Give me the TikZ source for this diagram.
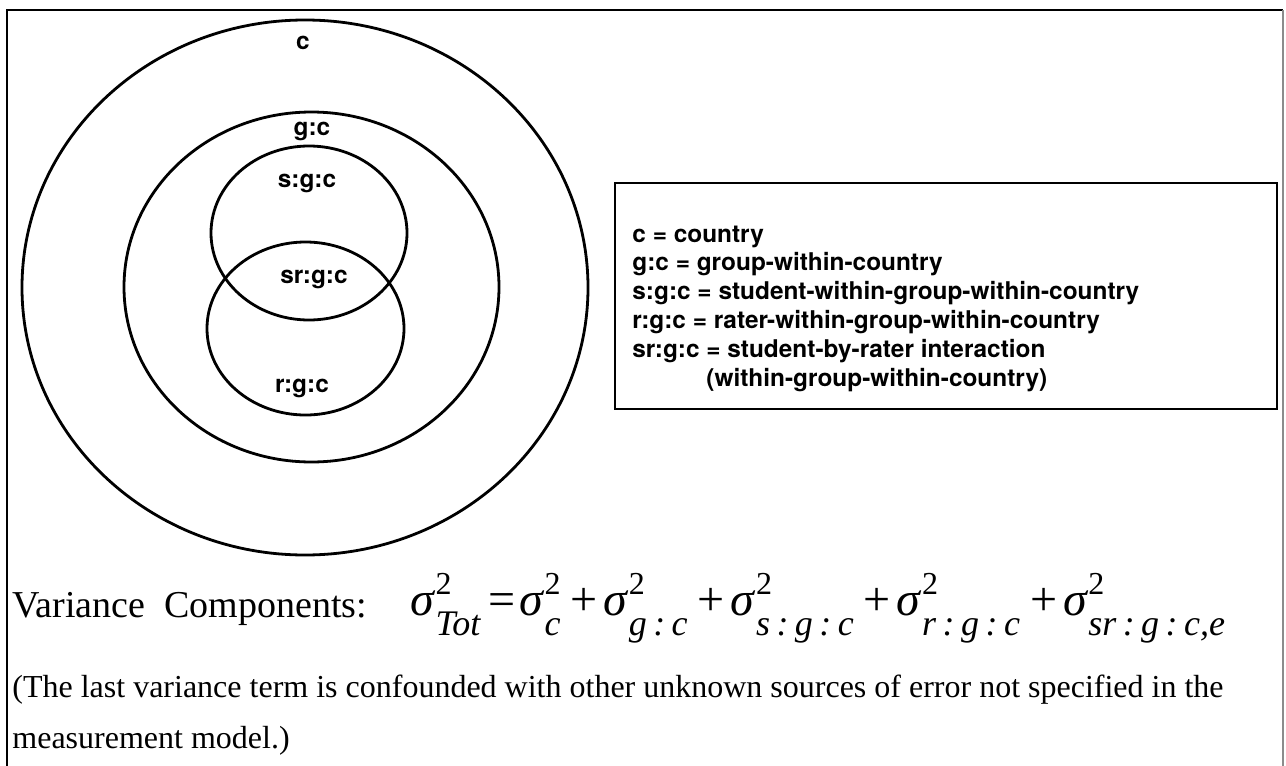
\documentclass[tikz,border=0pt]{standalone}
\usepackage{fontspec}
\setmainfont{Liberation Serif}
\newfontfamily\helv{TeX Gyre Heros}
\usetikzlibrary{positioning}
\newcommand{\vterm}[1]{\textit{σ}\rlap{\raisebox{10.5pt}{\fontsize{16}{16}\selectfont 2}}\raisebox{-10pt}{\fontsize{18}{18}\selectfont\itshape #1}}
\newcommand{\gsep}{\hspace{0.18em}:\hspace{0.18em}}
\newcommand{\plus}{\hspace{5pt}+\hspace{3pt}}

\begin{document}
\begin{tikzpicture}[x=0.5pt,y=-0.5pt,
    ring/.style={line width=1.4pt},
    lbl/.style={font=\helv\bfseries\fontsize{12.2}{14}\selectfont,anchor=base,inner sep=0pt},
    key/.style={font=\helv\bfseries\fontsize{12.2}{14}\selectfont,anchor=base west,inner sep=0pt},
    body/.style={anchor=base west,inner sep=0pt}]
  \useasboundingbox (0,0) rectangle (1286,766);
  % frame
  \draw[line width=1.2pt] (7,766) -- (7,10) -- (1283,10);
  \draw[line width=0.6pt,black!45] (1283,10) -- (1283,766);
  % nested ellipses
  \draw[ring] (305,287.5) ellipse [x radius=283,y radius=267.5];
  \draw[ring] (311.5,287) ellipse [x radius=187.5,y radius=175];
  \draw[ring] (309,233) ellipse [x radius=98,y radius=87];
  \draw[ring] (305.5,328.5) ellipse [x radius=98.5,y radius=86.5];
  % labels
  \node[lbl] (lc) at (303,49) {c};
  \node[lbl] (lgc) at (312,135) {g:c};
  \node[lbl] (lsgc) at (307,187) {s:g:c};
  \node[lbl] (lsrgc) at (314,283) {sr:g:c};
  \node[lbl] (lrgc) at (302,392) {r:g:c};
  % legend
  \draw[line width=1.2pt] (615,183) rectangle (1277,409);
  \foreach \txt [count=\i] in {c = country, g:c = group-within-country,
      s:g:c = student-within-group-within-country,
      r:g:c = rater-within-group-within-country,
      sr:g:c = student-by-rater interaction,
      \hspace*{37pt}(within-group-within-country)}
    \node[key] (key\i) at (632,{242+28.8*(\i-1)}) {\txt};
  % variance components
  \node[body,font=\fontsize{19}{19}\selectfont] (vc) at (12,617) {Variance\hspace{0.5em}Components:};
  \node[body,font=\fontsize{24}{24}\selectfont] (formula) at (410,615)
    {\vterm{Tot}\hspace{4pt}=\hspace{2pt}\vterm{c}\plus\vterm{g\gsep c}\plus\vterm{s\gsep g\gsep c}\plus\vterm{r\gsep g\gsep c}\plus\vterm{sr\gsep g\gsep c,e}};
  \node[body,font=\fontsize{16}{16}\selectfont] (note1) at (12,697) {(The last variance term is confounded with other unknown sources of error not specified in the};
  \node[body,font=\fontsize{16}{16}\selectfont] (note2) at (12,748) {measurement model.)};
\end{tikzpicture}
\end{document}
